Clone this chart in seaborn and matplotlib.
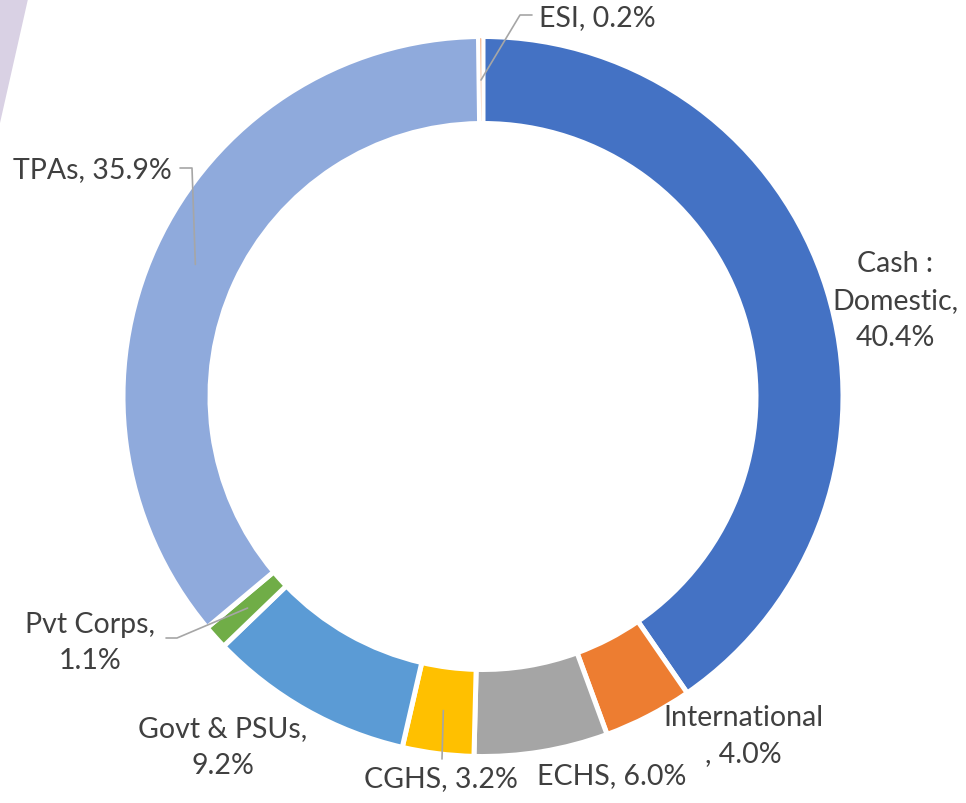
import numpy as np
import matplotlib
matplotlib.use("Agg")
import matplotlib.pyplot as plt
from matplotlib.patches import Polygon
import seaborn as sns

# data (clockwise from 12 o'clock)
categories = ["Cash : Domestic", "International", "ECHS", "CGHS",
              "Govt & PSUs", "Pvt Corps", "TPAs", "ESI"]
shares = [40.4, 4.0, 6.0, 3.2, 9.2, 1.1, 35.9, 0.2]
colors = ["#4472C4", "#ED7D31", "#A5A5A5", "#FFC000",
          "#5B9BD5", "#70AD47", "#8FAADC", "#F4B183"]
# how each data label is broken over lines in the original
label_fmt = ["Cash :\nDomestic,\n{}", "International\n, {}", "ECHS, {}", "CGHS, {}",
             "Govt & PSUs,\n{}", "Pvt Corps,\n{}", "TPAs, {}", "ESI, {}"]

W, H = 966, 804

sns.set_theme(style="white")
plt.rcParams["font.family"] = ["Lato", "DejaVu Sans"]

fig = plt.figure(figsize=(W / 100, H / 100), dpi=100)
ax = fig.add_axes([0, 0, 1, 1])

center = (483, H - 397.5)
radius = 360
ring = 87
wedges, _ = ax.pie(shares, colors=colors, startangle=90, counterclock=False,
                   center=center, radius=radius,
                   wedgeprops=dict(width=ring, edgecolor="white", linewidth=3.6))
# keep a sliver of the tiny ESI slice visible
wedges[-1].set_linewidth(2.4)

ax.set_xlim(0, W)
ax.set_ylim(0, H)
ax.set_aspect("equal", adjustable="box")
ax.axis("off")

# label layout (pixels from top-left)
label_pos = [(895, 301), (743, 736), (612, 776), (441, 779),
             (223, 748), (90, 643), (92, 170), (597, 18)]
leader_elbows = {7: [(532, 16), (520, 16)],
                 6: [(180, 169), (192, 169)],
                 5: [(166, 639), (177, 639)],
                 3: [(442, 760)]}

for i, (w, (lx, ly)) in enumerate(zip(wedges, label_pos)):
    txt = label_fmt[i].format(f"{shares[i]:.1f}%")
    ax.text(lx, H - ly, txt, ha="center", va="center", fontsize=20.5,
            color="#404040", linespacing=1.52)
    if i in leader_elbows:
        mid = np.deg2rad((w.theta1 + w.theta2) / 2)
        r_mid = radius - ring / 2
        ax_x = center[0] + r_mid * np.cos(mid)
        ax_y = center[1] + r_mid * np.sin(mid)
        xs = [p[0] for p in leader_elbows[i]] + [ax_x]
        ys = [H - p[1] for p in leader_elbows[i]] + [ax_y]
        ax.plot(xs, ys, color="#A6A6A6", lw=1.2, zorder=5)

# slide decoration in the top-left corner
ax.add_patch(Polygon([(0, H), (28, H), (0, H - 124)], closed=True,
                     facecolor="#D9D1E4", edgecolor="none", zorder=0))

fig.savefig("out.png", dpi=100)
